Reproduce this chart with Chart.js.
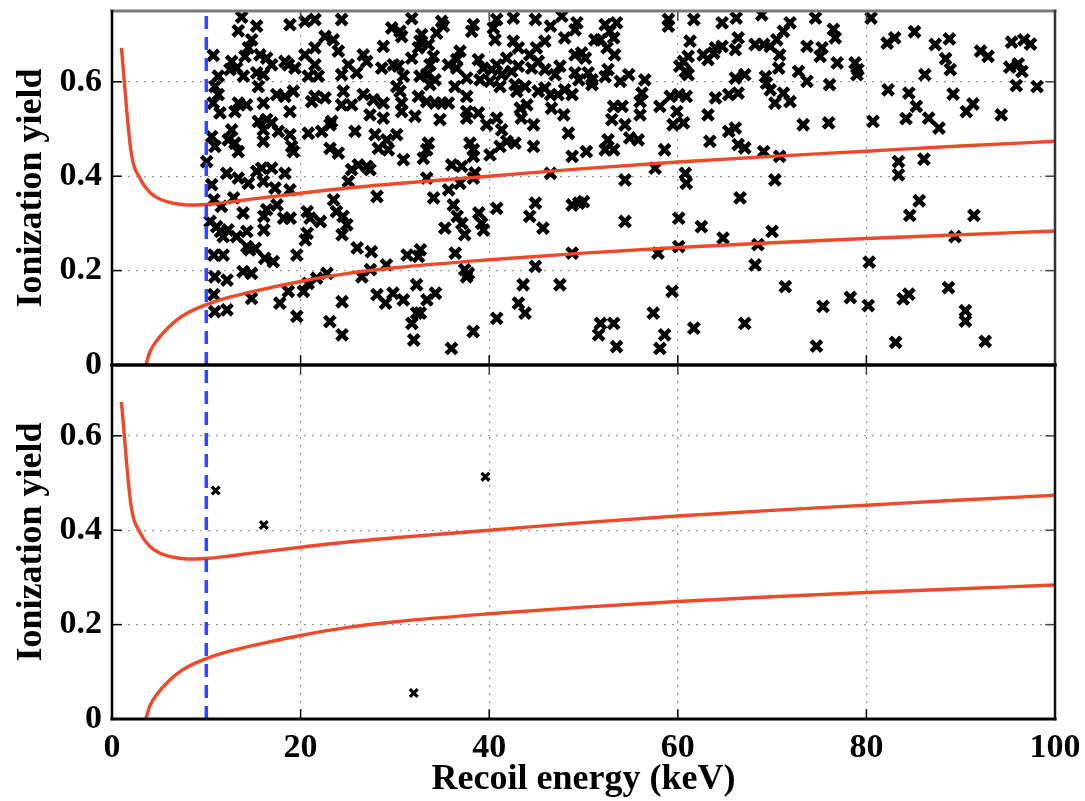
<!DOCTYPE html>
<html>
<head>
<meta charset="utf-8">
<script src="https://cdn.jsdelivr.net/npm/chart.js@4/dist/chart.umd.min.js"></script>
<style>
  html, body { margin: 0; padding: 0; background: #fff; }
  #wrap { position: relative; width: 1085px; height: 801px; overflow: hidden; background: #fff; }
  #topPanel { position: absolute; left: 0; top: 0; }
  #bottomPanel { position: absolute; left: 0; top: 340px; }
</style>
</head>
<body>
<div id="wrap">
  <canvas id="topPanel" width="1085" height="390"></canvas>
  <canvas id="bottomPanel" width="1085" height="461"></canvas>
</div>
<script>
// Axis ticks
const xTicks = [0, 20, 40, 60, 80, 100];
const yTicks = [0, 0.2, 0.4, 0.6];

// Analysis threshold (keV)
const thresholdEnergy = 10;

// Upper band edge: energy (keV) and ionization yield
const upperBandEnergy = [1, 2, 3, 4, 5, 6, 7, 8, 9, 10, 12, 15, 20, 25, 30, 40, 50, 60, 70, 80, 90, 100];
const upperBandYield  = [0.672, 0.455, 0.394, 0.366, 0.352, 0.345, 0.341, 0.339, 0.339, 0.340, 0.344, 0.352, 0.364, 0.375, 0.384, 0.400, 0.416, 0.430, 0.442, 0.453, 0.464, 0.474];

// Lower band edge
const lowerBandEnergy = [3.6, 4, 5, 6, 7, 8, 9, 10, 12, 15, 20, 25, 30, 40, 50, 60, 70, 80, 90, 100];
const lowerBandYield  = [0, 0.027, 0.058, 0.080, 0.097, 0.110, 0.120, 0.128, 0.141, 0.156, 0.177, 0.194, 0.206, 0.223, 0.237, 0.249, 0.259, 0.268, 0.276, 0.284];

// Calibration events, [energy keV, ionization yield], grouped by energy range
const eventsLow = [
  [13.75,.737],[13.39,.708],[15.34,.718],[18.87,.721],[20.46,.728],[21.52,.732],[24.35,.732],[14.81,.689],[14.46,.672],[14.10,.654],
  [15.69,.657],[16.40,.650],[16.93,.636],[10.74,.656],[12.69,.643],[13.22,.629],[12.51,.626],[11.27,.612],[13.93,.612],[15.34,.619],
  [16.05,.615],[15.52,.590],[18.34,.643],[19.40,.629],[18.70,.636],[20.46,.657],[21.52,.672],[22.59,.696],[23.47,.689],[24.00,.665],
  [21.52,.636],[20.82,.612],[21.88,.612],[25.06,.636],[25.94,.619],[24.35,.615],[10.92,.590],[11.27,.573],[10.74,.555],[11.45,.534],
  [13.39,.555],[14.28,.551],[17.46,.573],[18.34,.569],[19.23,.580],[18.87,.537],[16.05,.555],[21.17,.558],[21.52,.569],[22.59,.566],
  [24.53,.580],[24.35,.551],[25.41,.551],[15.52,.516],[16.40,.520],[16.05,.498],[16.93,.513],[13.04,.537],[12.69,.498],[12.33,.477],
  [13.04,.470],[13.39,.452],[10.57,.484],[10.92,.463],[16.05,.474],[17.64,.495],[18.87,.488],[19.05,.463],[19.23,.452],[20.82,.491],
  [22.23,.495],[23.12,.509],[23.29,.516],[25.77,.495],[23.12,.459],[24.00,.449],[12.16,.406],[13.39,.396],[14.46,.385],[15.34,.410],
  [15.87,.417],[16.93,.417],[16.05,.389],[17.28,.375],[18.34,.406],[18.87,.371],[10.57,.382],[25.41,.414],[26.12,.424],[25.06,.389],
  [10.04,.431],
  [10.8,.350],[11.6,.336],[12.9,.354],[13.9,.322],[16.1,.315],[16.4,.329],[18.2,.311],[18.9,.311],[17.5,.339],[10.4,.304],
  [11.1,.293],[11.5,.283],[11.8,.272],[12.3,.286],[13.2,.272],[14.3,.283],[16.1,.286],[20.7,.325],[21.0,.311],[22.1,.304],
  [23.5,.350],[23.8,.325],[24.5,.315],[24.4,.276],[24.9,.297],[20.7,.279],[20.5,.265],[10.8,.233],[11.8,.233],[14.3,.251],
  [14.6,.244],[15.2,.247],[16.2,.226],[17.1,.219],[19.6,.233],[10.9,.187],[12.2,.180],[13.9,.198],[14.8,.194],[10.8,.149],
  [10.9,.113],[12.2,.117],[14.8,.141],[17.8,.131],[18.7,.156],[20.3,.156],[20.8,.173],[21.7,.184],[22.8,.194],[19.6,.103],
  [23.1,.092],[24.4,.134],[24.4,.064]
];
const eventsMid = [
  [31.78,.734],[29.66,.714],[30.54,.707],[30.72,.696],[28.77,.675],[32.84,.700],[32.66,.686],[34.43,.703],[34.96,.728],[35.14,.718],
  [38.32,.721],[38.14,.707],[40.79,.732],[40.44,.714],[42.56,.735],[40.62,.689],[42.56,.686],[43.09,.672],[26.65,.657],[27.01,.643],
  [28.60,.629],[29.83,.636],[30.37,.633],[31.78,.650],[32.49,.672],[33.55,.679],[34.08,.654],[33.72,.636],[35.67,.636],[36.55,.647],
  [36.90,.665],[36.55,.629],[38.85,.647],[39.38,.629],[40.26,.626],[40.79,.636],[41.32,.615],[41.85,.650],[42.38,.622],[43.09,.633],
  [30.90,.612],[32.66,.612],[33.37,.615],[34.25,.604],[33.72,.594],[30.19,.590],[30.54,.580],[36.37,.590],[37.61,.608],[39.03,.604],
  [40.09,.601],[41.15,.590],[42.74,.594],[42.91,.580],[26.65,.573],[27.71,.562],[28.77,.555],[27.36,.530],[28.77,.523],[30.72,.555],
  [30.72,.537],[32.49,.569],[33.37,.558],[34.25,.555],[34.96,.555],[35.67,.555],[37.61,.569],[34.78,.520],[32.13,.527],[37.61,.537],
  [37.61,.523],[38.85,.534],[39.73,.509],[40.79,.523],[41.32,.498],[41.85,.474],[42.74,.470],[41.15,.463],[40.09,.445],[27.89,.488],
  [28.24,.459],[29.13,.477],[29.30,.456],[30.19,.488],[30.90,.435],[33.55,.470],[33.37,.456],[33.02,.438],[37.96,.470],[38.32,.456],
  [38.32,.442],[36.02,.424],[37.08,.421],[27.01,.421],[27.36,.414],[33.37,.396],[38.50,.407],[38.32,.396],[36.9,.385],[43.3,.544],
  [44.9,.732],[46.5,.718],[47.7,.739],[49.3,.725],[49.1,.710],[45.9,.686],[48.0,.693],[51.2,.689],[44.3,.657],[45.0,.672],
  [45.2,.643],[44.5,.629],[45.9,.626],[47.0,.615],[47.5,.633],[49.1,.657],[49.8,.661],[50.2,.650],[49.1,.619],[50.5,.619],
  [50.9,.604],[44.0,.551],[43.4,.523],[44.7,.509],[43.8,.590],[45.2,.580],[45.9,.587],[46.5,.573],[47.3,.573],[48.0,.583],
  [48.8,.573],[46.6,.544],[47.9,.530],[49.5,.604],[50.9,.594],[44.7,.463],[48.4,.491],[50.3,.452],[48.8,.442],[46.5,.406],
  [28.1,.357],[34.1,.354],[35.7,.371],[36.2,.339],[36.6,.315],[37.1,.300],[37.4,.276],[35.3,.290],[38.9,.322],[39.2,.300],
  [39.4,.286],[40.8,.332],[44.3,.315],[44.9,.343],[45.7,.290],[48.8,.339],[49.5,.343],[50.0,.346],[26.0,.248],[27.5,.240],
  [31.3,.233],[32.5,.230],[32.7,.244],[36.4,.237],[29.1,.212],[26.5,.187],[27.4,.202],[37.4,.202],[37.8,.194],[37.6,.187],
  [44.9,.209],[48.8,.237],[43.6,.170],[47.5,.170],[32.3,.170],[28.1,.149],[29.0,.131],[29.8,.152],[30.9,.138],[33.4,.138],
  [34.3,.152],[32.3,.110],[31.8,.088],[32.7,.110],[32.0,.053],[36.0,.035],[38.3,.071],[40.8,.099],[43.1,.131],[43.8,.110]
];
const eventsHigh = [
  [52.3,.721],[53.5,.725],[52.8,.707],[53.2,.693],[51.8,.689],[52.5,.672],[53.3,.657],[59.0,.732],[59.0,.718],[61.7,.732],
  [64.7,.725],[66.2,.735],[68.9,.742],[71.9,.725],[74.6,.735],[71.2,.707],[76.5,.711],[76.7,.693],[61.3,.686],[66.4,.693],
  [60.6,.643],[61.1,.654],[60.2,.633],[60.8,.622],[61.1,.615],[62.7,.657],[63.2,.647],[63.8,.661],[64.0,.672],[64.7,.675],
  [66.1,.668],[68.2,.679],[69.1,.679],[69.8,.675],[70.5,.689],[70.8,.657],[70.7,.629],[73.7,.675],[75.3,.672],[75.1,.654],
  [76.9,.640],[72.8,.622],[73.7,.601],[76.1,.594],[52.6,.626],[52.3,.611],[53.9,.601],[54.8,.615],[56.5,.604],[67.1,.615],
  [66.1,.608],[69.3,.611],[69.4,.597],[69.8,.583],[70.3,.555],[71.2,.576],[71.9,.558],[65.4,.573],[66.4,.576],[64.0,.566],
  [59.2,.569],[60.1,.573],[60.9,.569],[58.1,.548],[56.2,.576],[56.0,.558],[53.2,.548],[54.1,.548],[53.0,.520],[54.4,.509],
  [56.0,.530],[59.9,.537],[59.5,.509],[60.6,.513],[63.2,.530],[65.4,.495],[66.1,.502],[73.3,.509],[76.0,.513],[52.6,.477],
  [54.9,.481],[55.8,.477],[52.3,.456],[53.2,.456],[58.6,.456],[63.4,.474],[66.4,.467],[67.1,.460],[69.1,.452],[70.8,.442],
  [57.6,.417],[54.4,.392],[60.8,.406],[60.9,.385],[70.3,.392],
  [66.6,.354],[54.4,.304],[60.1,.311],[62.5,.293],[64.8,.269],[70.0,.283],[57.9,.237],[60.1,.251],[68.5,.255],[68.2,.212],
  [59.4,.156],[71.4,.166],[57.4,.110],[75.4,.124],[51.8,.088],[53.2,.088],[51.6,.064],[58.6,.064],[61.7,.078],[67.1,.088],
  [53.5,.039],[58.1,.035],[74.7,.040]
];
const eventsTail = [
  [80.5,.735],[82.2,.682],[83.0,.693],[85.1,.706],[87.3,.679],[88.8,.691],[88.4,.649],[88.9,.626],[86.2,.615],[78.8,.640],
  [79.1,.626],[79.0,.615],[82.3,.583],[84.5,.576],[85.3,.548],[84.2,.522],[86.6,.523],[87.7,.502],[89.2,.574],[90.6,.537],
  [91.3,.553],[94.3,.530],[92.1,.665],[92.9,.654],[95.4,.684],[96.7,.689],[97.4,.680],[95.2,.631],[96.1,.638],[96.5,.622],
  [95.9,.592],[98.1,.590],[80.7,.516],[83.4,.431],[83.4,.403],[86.1,.436],
  [85.6,.348],[84.6,.317],[91.4,.317],[89.4,.272],[80.3,.218],[78.3,.143],[80.2,.126],[83.9,.140],[84.5,.150],[88.7,.164],
  [90.5,.115],[90.5,.093],[83.1,.048],[92.6,.050]
];

// Events surviving the selection (lower panel)
const selectedEvents = [[11.0,.484],[16.1,.411],[39.6,.513],[32.0,.055]];

const FONT = "'Liberation Serif','Times New Roman',Times,serif";
const RED = 'rgb(240,72,40)';
const BLUE = 'rgb(48,72,245)';
const GRID = '#9a9a9a';

const toPoints = (xs, ys) => xs.map((x, i) => ({ x, y: ys[i] }));
const pairPoints = arr => arr.map(([x, y]) => ({ x, y }));

// Frame with inward ticks, drawn above the data
const framePlugin = {
  id: 'frame',
  afterDatasetsDraw(chart, args, o) {
    const { ctx, chartArea: { left, right, top, bottom } } = chart;
    const xs = chart.scales.x, ys = chart.scales.y;
    const seg = (x1, y1, x2, y2, c, w) => {
      ctx.beginPath(); ctx.strokeStyle = c; ctx.lineWidth = w;
      ctx.moveTo(x1, y1); ctx.lineTo(x2, y2); ctx.stroke();
    };
    ctx.save();
    ctx.lineCap = 'square';
    yTicks.forEach(v => {
      const py = ys.getPixelForValue(v);
      seg(left, py, left + 9, py, '#000', 1.5);
      seg(right, py, right - 9, py, '#444', 1.5);
    });
    xTicks.forEach(v => {
      const px = xs.getPixelForValue(v);
      seg(px, bottom, px, bottom - 9, '#000', 1.5);
      seg(px, top, px, top + 9, '#444', 1.5);
    });
    seg(left, top, right, top, o.topColor, o.topWidth);
    seg(right, top, right, bottom, o.rightColor, 2.5);
    seg(left, top, left, bottom, '#000', 2.5);
    seg(left, bottom, right, bottom, '#000', 3);
    ctx.restore();
  }
};

// Scales report no overflow padding, so the plot area is fixed by the layout padding alone
const noOverflow = s => { s.paddingTop = 0; s.paddingBottom = 0; s.paddingLeft = 0; s.paddingRight = 0; };

function makePanel(id, events, cfg) {
  return new Chart(document.getElementById(id), {
    type: 'scatter',
    data: {
      datasets: [
        {
          type: 'line', data: [{ x: thresholdEnergy, y: 0 }, { x: thresholdEnergy, y: 0.75 }],
          borderColor: BLUE, borderWidth: 3.5, borderDash: [13, 8], pointRadius: 0, fill: false, order: 0
        },
        {
          type: 'line', data: toPoints(upperBandEnergy, upperBandYield),
          borderColor: RED, borderWidth: 3.4, pointRadius: 0, fill: false,
          cubicInterpolationMode: 'monotone', order: 1
        },
        {
          type: 'line', data: toPoints(lowerBandEnergy, lowerBandYield),
          borderColor: RED, borderWidth: 3.4, pointRadius: 0, fill: false,
          cubicInterpolationMode: 'monotone', order: 1
        },
        {
          data: events, pointStyle: 'crossRot', pointRadius: cfg.r, pointBorderWidth: cfg.bw,
          borderColor: '#000', backgroundColor: '#000', order: 2
        }
      ]
    },
    options: {
      responsive: false, animation: false, events: [],
      layout: { autoPadding: false, padding: { left: 0, right: 30, top: cfg.padTop, bottom: 0 } },
      plugins: {
        legend: { display: false }, tooltip: { enabled: false },
        frame: { topColor: cfg.topColor, topWidth: cfg.topWidth, rightColor: cfg.rightColor }
      },
      scales: {
        x: {
          type: 'linear', min: 0, max: 100,
          afterBuildTicks: s => { s.ticks = xTicks.map(v => ({ value: v })); },
          afterFit: s => { s.height = cfg.xHeight; noOverflow(s); },
          grid: { color: GRID, lineWidth: 1.2, drawTicks: false },
          border: { display: false, dash: [2, 6] },
          ticks: {
            display: cfg.xLabels, padding: 9, color: '#000',
            font: { family: FONT, size: 34, weight: 'bold' },
            callback: v => String(v)
          },
          title: {
            display: cfg.xLabels, text: 'Recoil energy (keV)', color: '#000', padding: 0,
            font: { family: FONT, size: 36, weight: 'bold' }
          }
        },
        y: {
          type: 'linear', min: 0, max: 0.75,
          afterBuildTicks: s => { s.ticks = yTicks.map(v => ({ value: v })); },
          afterFit: s => { s.width = 112; noOverflow(s); },
          grid: { color: GRID, lineWidth: 1.2, drawTicks: false },
          border: { display: false, dash: [2, 6] },
          ticks: {
            padding: 10, color: '#000',
            font: { family: FONT, size: 34, weight: 'bold' },
            callback: v => (v === 0 ? '0' : v.toFixed(1))
          },
          title: {
            display: true, text: 'Ionization yield', color: '#000', padding: { top: 10, bottom: 0 },
            font: { family: FONT, size: 36, weight: 'bold' }
          }
        }
      }
    },
    plugins: [framePlugin]
  });
}

makePanel('topPanel',
  pairPoints([].concat(eventsLow, eventsMid, eventsHigh, eventsTail)),
  { r: 7.5, bw: 4.5, padTop: 11, xHeight: 25, xLabels: false, topColor: '#7a7a7a', topWidth: 3, rightColor: '#333' });

makePanel('bottomPanel',
  pairPoints(selectedEvents),
  { r: 5.5, bw: 3.2, padTop: 25, xHeight: 82, xLabels: true, topColor: '#000', topWidth: 3, rightColor: '#111' });
</script>
</body>
</html>
